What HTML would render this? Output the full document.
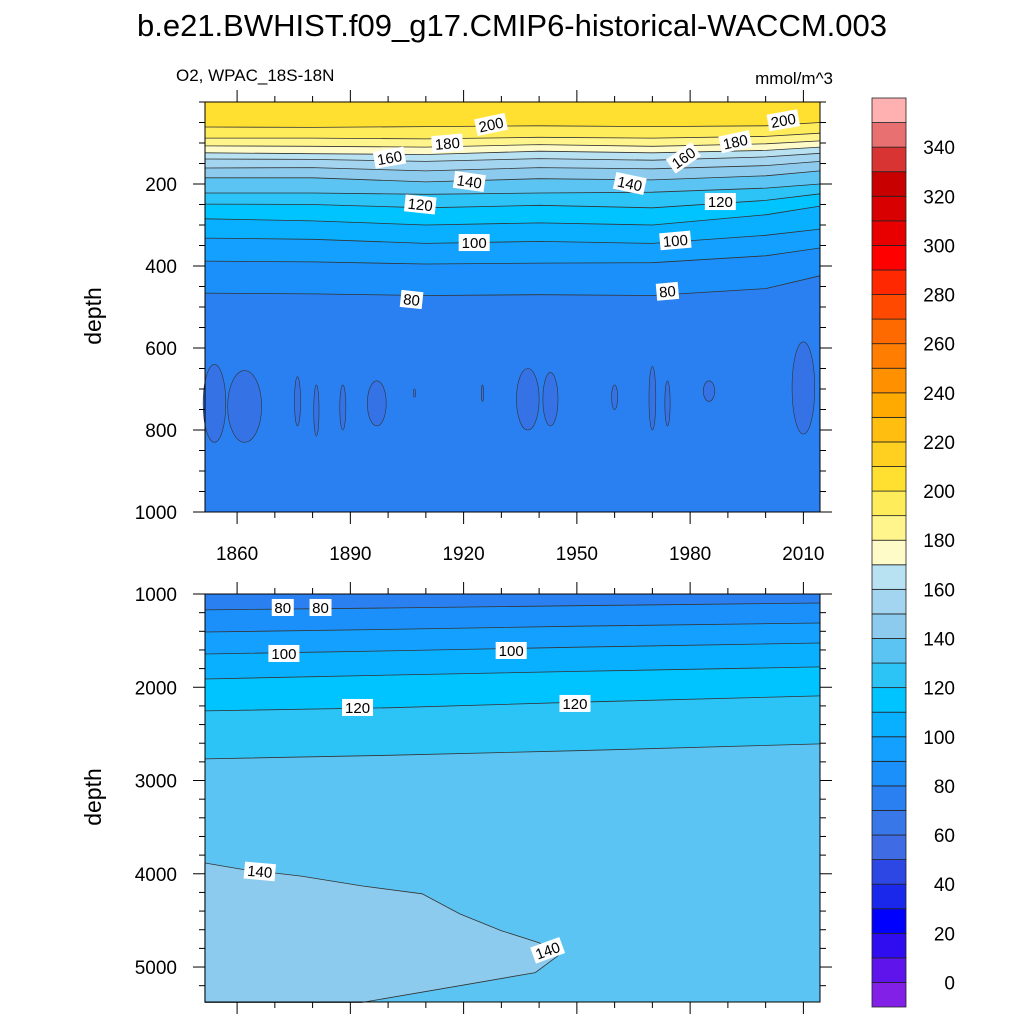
<!DOCTYPE html>
<html><head><meta charset="utf-8">
<style>
html,body{margin:0;padding:0;background:#fff;}
svg text{font-family:"Liberation Sans",Arial,sans-serif;}
</style></head>
<body>
<svg id="chart" width="1024" height="1024" viewBox="0 0 1024 1024" xmlns="http://www.w3.org/2000/svg">
<text x="512" y="36" font-size="31" text-anchor="middle">b.e21.BWHIST.f09_g17.CMIP6-historical-WACCM.003</text>
<text x="176" y="81" font-size="17">O2, WPAC_18S-18N</text>
<text x="833" y="84" font-size="17" text-anchor="end">mmol/m^3</text>
<text x="0" y="0" font-size="23" text-anchor="middle" transform="translate(101,316) rotate(-90)">depth</text>
<text x="0" y="0" font-size="23" text-anchor="middle" transform="translate(101,797) rotate(-90)">depth</text>
<g id="topPanel"></g>
<g id="botPanel"></g>
<g id="cbar"></g>
</svg>
<script>
// colour levels (lower bounds) and colours
const levels = [-10,0,10,20,30,40,50,60,70,80,90,100,110,120,130,140,150,160,170,180,190,200,210,220,230,240,250,260,270,280,290,300,310,320,330,340,350];
const colors = ["#8220e8","#5e14ea","#300cf0","#0000ff","#1a28ec","#2c47e4","#3f6be4","#3777e8","#2a80f0","#1b90fa","#13a0ff","#08b0ff","#00c4ff","#2cc3f6","#5cc4f2","#8ccbed","#a3d5f0","#b8e2f2","#fffbc8","#fff58c","#ffec5a","#ffe030","#ffd020","#ffbe10","#ffaa00","#ff9000","#ff7d00","#ff6a00","#ff4800","#ff2800","#ff0000","#e80000","#d80000","#c80000","#d83434","#e87070","#ffb0b0"];
const cbarLabels = [0,20,40,60,80,100,120,140,160,180,200,220,240,260,280,300,320,340];

// top panel data (depth of each contour, m)
const topYears = [1851.5,1880,1910,1940,1970,2000,2014.4];
const topLevels = [80,90,100,110,120,130,140,150,160,170,180,190,200];
const topDepths = [
 [466,468,472,470,472,455,424],
 [388,390,395,393,392,375,356],
 [332,335,345,340,345,325,310],
 [285,290,300,295,300,275,254],
 [249,250,258,252,258,240,224],
 [222,222,225,222,220,210,200],
 [185,185,195,187,190,180,168],
 [161,160,168,160,163,155,145],
 [139,140,145,138,142,134,125],
 [124,126,128,120,124,118,110],
 [107,108,110,104,108,102,95],
 [88,88,90,86,88,84,76],
 [61,62,60,58,60,58,50]
];
// low-oxygen (<70) blobs: centre year, half width (yr), top depth, bottom depth
const blobYear = [1854,1862,1876,1881,1888,1897,1907,1925,1937,1943,1960,1970,1974,1985,2010];
const blobHalf = [3,4.5,0.8,0.7,0.8,2.5,0.3,0.3,3,2,0.8,0.9,0.7,1.5,3];
const blobTop = [640,655,670,690,690,680,700,690,650,660,690,645,680,680,585];
const blobBot = [830,830,790,815,800,790,720,730,800,790,750,800,790,730,810];
const topLabelYears = [1927.3,1915.7,1900.4,1921.5,1908.5,1922.8,1906.2,2004.7,1992,1978.3,1964,1988,1976.1,1974];
const topLabelDepths = [56,102,137,195,251,344,483,46,98,137,200,244,339,463];
const topLabelText = ["200","180","160","140","120","100","80","200","180","160","140","120","100","80"];
const topLabelRot = [-12,-5,-10,8,6,0,6,-10,-12,-35,12,0,-5,-5];

// bottom panel data
const botYears = [1851.5,1900,1950,2014.4];
const botLevels = [80,90,100,110,120,130];
const botDepths = [
 [1171,1150,1125,1096],
 [1407,1380,1345,1311],
 [1643,1610,1570,1525],
 [1911,1870,1830,1782],
 [2254,2220,2160,2093],
 [2768,2730,2680,2607]
];
const c140Years = [1851.5,1861,1877,1893,1909,1919,1930,1940,1945,1939,1919,1893,1851.5];
const c140Depths = [3885,3950,4025,4130,4215,4430,4610,4740,4880,5060,5200,5380,5380];
const botLabelYears = [1872.1,1882.1,1872.4,1932.6,1891.9,1949.5,1866,1942.3];
const botLabelDepths = [1150,1150,1643,1611,2222,2179,3980,4826];
const botLabelText = ["80","80","100","100","120","120","140","140"];
const botLabelRot = [0,0,0,0,0,0,5,-20];

const xTicks = [1860,1890,1920,1950,1980,2010];
const topYTicks = [200,400,600,800,1000];
const botYTicks = [1000,2000,3000,4000,5000];

const NS="http://www.w3.org/2000/svg";
function mk(tag,attrs,parent){const e=document.createElementNS(NS,tag);for(const k in attrs)e.setAttribute(k,attrs[k]);parent.appendChild(e);return e;}
function colorFor(v){return colors[levels.indexOf(v)];}

const X0=205,X1=820;
const yearMin=1851.5, yearMax=2014.4;
const sx=y=>X0+(y-yearMin)/(yearMax-yearMin)*(X1-X0);
const TY0=102,TY1=512, sTop=d=>TY0+d/1000*(TY1-TY0);
const BY0=594,BY1=1002, dMin=1000,dMax=5375, sBot=d=>BY0+(d-dMin)/(dMax-dMin)*(BY1-BY0);

function pts(xs,ds,sy){return xs.map((y,i)=>sx(y).toFixed(1)+","+sy(ds[i]).toFixed(1));}

// ---- top panel
const topG=document.getElementById('topPanel');
const tbg=mk('rect',{x:X0,y:TY0,width:X1-X0,height:TY1-TY0,fill:colorFor(70)},topG);


blobYear.forEach((yr,i)=>{
  const e=mk('ellipse',{cx:sx(yr),cy:(sTop(blobTop[i])+sTop(blobBot[i]))/2,rx:Math.max(1,sx(yr+blobHalf[i])-sx(yr)),ry:(sTop(blobBot[i])-sTop(blobTop[i]))/2,fill:"#3472e6",stroke:"#333","stroke-width":0.6},topG);
  
  
});
topLevels.forEach((lv,i)=>{
  const p=pts(topYears,topDepths[i],sTop);
  const poly=mk('polygon',{points:X0+","+TY0+" "+p.join(" ")+" "+X1+","+TY0,fill:colorFor(lv)},topG);
  
  
});
topLevels.forEach((lv,i)=>{
  const l=mk('polyline',{points:pts(topYears,topDepths[i],sTop).join(" "),fill:"none",stroke:"#333","stroke-width":0.8},topG);
  
  
});
topLabelText.forEach((t,i)=>{
  const x=sx(topLabelYears[i]),y=sTop(topLabelDepths[i]);
  const g=mk('g',{transform:`translate(${x},${y}) rotate(${topLabelRot[i]})`},topG);
  
  
  const w=t.length*9+4;
  mk('rect',{x:-w/2,y:-9,width:w,height:17,fill:"#fff"},g);
  const tx=mk('text',{x:0,y:5,"font-size":15,"text-anchor":"middle"},g);tx.textContent=t;
});

// ---- bottom panel
const botG=document.getElementById('botPanel');
const bbg=mk('rect',{x:X0,y:BY0,width:X1-X0,height:BY1-BY0,fill:colorFor(70)},botG);


botLevels.forEach((lv,i)=>{
  const p=pts(botYears,botDepths[i],sBot);
  const poly=mk('polygon',{points:X0+","+BY1+" "+p.join(" ")+" "+X1+","+BY1,fill:colorFor(lv)},botG);
  
  
});
const c140=mk('polygon',{points:pts(c140Years,c140Depths,sBot).join(" "),fill:colorFor(140),stroke:"#333","stroke-width":0.8},botG);


mk('line',{x1:X0,y1:BY1,x2:X0,y2:sBot(c140Depths[0]),stroke:colorFor(140),"stroke-width":1.5},botG);
botLevels.forEach((lv,i)=>{
  const l=mk('polyline',{points:pts(botYears,botDepths[i],sBot).join(" "),fill:"none",stroke:"#333","stroke-width":0.8},botG);
  
  
});
botLabelText.forEach((t,i)=>{
  const x=sx(botLabelYears[i]),y=sBot(botLabelDepths[i]);
  const g=mk('g',{transform:`translate(${x},${y}) rotate(${botLabelRot[i]})`},botG);
  
  
  const w=t.length*9+4;
  mk('rect',{x:-w/2,y:-9,width:w,height:17,fill:"#fff"},g);
  const tx=mk('text',{x:0,y:5,"font-size":15,"text-anchor":"middle"},g);tx.textContent=t;
});

// ---- axes
function frame(parent,y0,y1,yTicks,sy,minorStep,dLo,dHi,labelsX){
  mk('rect',{x:X0,y:y0,width:X1-X0,height:y1-y0,fill:"none",stroke:"#000","stroke-width":1},parent);
  for(let yr=1860;yr<=2014;yr+=10){
    const major=xTicks.includes(yr), L=major?12:6, x=sx(yr);
    mk('line',{x1:x,y1:y1,x2:x,y2:y1+L,stroke:"#000"},parent);
    mk('line',{x1:x,y1:y0,x2:x,y2:y0-L,stroke:"#000"},parent);
  }
  if(labelsX) xTicks.forEach(yr=>{const t=mk('text',{x:sx(yr),y:y1+48,"font-size":19,"text-anchor":"middle"},parent);t.textContent=yr;
    
    });
  for(let d=dLo;d<=dHi;d+=minorStep){
    const major=yTicks.includes(d),L=major?12:6,y=sy(d);
    if(y<y0-0.5||y>y1+0.5)continue;
    mk('line',{x1:X0,y1:y,x2:X0-L,y2:y,stroke:"#000"},parent);
    mk('line',{x1:X1,y1:y,x2:X1+L,y2:y,stroke:"#000"},parent);
  }
  yTicks.forEach(d=>{const t=mk('text',{x:X0-28,y:sy(d)+7,"font-size":19,"text-anchor":"end"},parent);t.textContent=d;
    
    });
}
frame(topG,TY0,TY1,topYTicks,sTop,50,0,1000,true);
frame(botG,BY0,BY1,botYTicks,sBot,200,1000,5400,false);

// ---- colorbar
const cb=document.getElementById('cbar');
const CBX=872,CBW=34,CBT=98,CBB=1007, bh=(CBB-CBT)/levels.length;
levels.forEach((lv,i)=>{
  const y=CBB-(i+1)*bh;
  const r=mk('rect',{x:CBX,y:y,width:CBW,height:bh,fill:colors[i],stroke:"#222","stroke-width":0.8},cb);
  
  
});
cbarLabels.forEach(v=>{
  const i=levels.indexOf(v);const y=CBB-i*bh;
  const t=mk('text',{x:955,y:y+7,"font-size":19,"text-anchor":"end"},cb);t.textContent=v;
  
  
});
</script>
</body></html>
